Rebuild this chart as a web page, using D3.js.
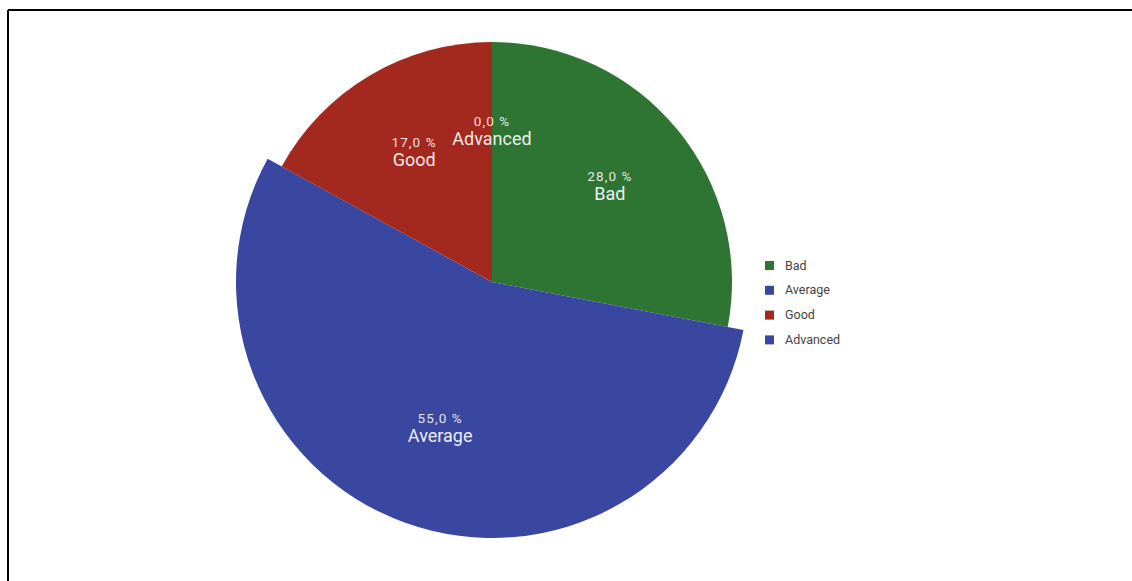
<!DOCTYPE html>
<html>
<head>
<meta charset="utf-8">
<script src="https://cdn.jsdelivr.net/npm/d3@7"></script>
<style>
  html, body { margin: 0; padding: 0; background: #fff; }
  svg { display: block; }
</style>
</head>
<body>
<svg id="chart" width="1132" height="581"></svg>
<script>
const categories = ["Bad", "Average", "Good", "Advanced"];
const values = [28.0, 55.0, 17.0, 0.0];
const colors = ["#2e7533", "#3a47a1", "#a3291f", "#3a47a1"];
const highlighted = ["Average"];

const svg = d3.select("#chart");
const W = 1132, H = 581;

// frame (left and top border only visible)
svg.append("line").attr("x1", 8).attr("y1", 10).attr("x2", W).attr("y2", 10)
  .attr("stroke", "#000").attr("stroke-width", 2);
svg.append("line").attr("x1", 8).attr("y1", 10).attr("x2", 8).attr("y2", H)
  .attr("stroke", "#000").attr("stroke-width", 2);

const cx = 492, cy = 282, R = 240, Rhi = 256, labelR = 153;

const data = categories.map((c, i) => ({ name: c, value: values[i], color: colors[i] }));
const pie = d3.pie().value(d => d.value).sort(null);
const arcs = pie(data);

const g = svg.append("g").attr("transform", `translate(${cx},${cy})`);

const arcNormal = d3.arc().innerRadius(0).outerRadius(R);
const arcHi = d3.arc().innerRadius(0).outerRadius(Rhi);

g.selectAll("path.slice").data(arcs).join("path")
  .attr("class", "slice")
  .attr("d", d => highlighted.includes(d.data.name) ? arcHi(d) : arcNormal(d))
  .attr("fill", d => d.data.color);

const fmt = v => d3.format(".1f")(v).replace(".", ",") + " %";

const labels = g.selectAll("g.lbl").data(arcs).join("g")
  .attr("class", "lbl")
  .attr("transform", d => {
    const a = (d.startAngle + d.endAngle) / 2;
    return `translate(${labelR * Math.sin(a)},${-labelR * Math.cos(a)})`;
  });

labels.append("text")
  .attr("text-anchor", "middle")
  .attr("y", -3)
  .attr("font-family", "Roboto, sans-serif")
  .attr("font-size", 13.5)
  .attr("letter-spacing", 1.1)
  .attr("fill", "#fff")
  .attr("fill-opacity", 0.88)
  .text(d => fmt(d.data.value));

labels.append("text")
  .attr("text-anchor", "middle")
  .attr("y", 16)
  .attr("font-family", "Roboto, sans-serif")
  .attr("font-size", 18)
  .attr("fill", "#fff")
  .attr("fill-opacity", 0.93)
  .text(d => d.data.name);

// legend
const legend = svg.append("g").attr("transform", "translate(765,261)");
const rows = legend.selectAll("g").data(data).join("g")
  .attr("transform", (d, i) => `translate(0,${i * 24.8})`);
rows.append("rect").attr("width", 9).attr("height", 9).attr("fill", d => d.color);
rows.append("text")
  .attr("x", 20).attr("y", 8.5)
  .attr("font-family", "Roboto, sans-serif")
  .attr("font-size", 12.5)
  .attr("fill", "#444")
  .text(d => d.name);
</script>
</body>
</html>
